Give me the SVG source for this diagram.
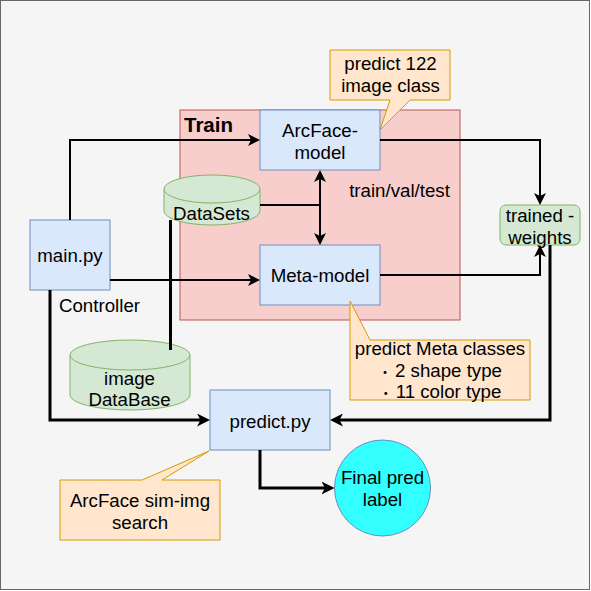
<svg xmlns="http://www.w3.org/2000/svg" width="591" height="591" viewBox="0 0 591 591">
<defs>
<style>
text{font-family:"Liberation Sans",Arial,"Noto Sans CJK JP",sans-serif;font-size:18.7px;fill:#000;text-anchor:middle}
.cjk{font-family:"Noto Sans CJK JP","Noto Sans CJK SC",sans-serif;font-size:14px}
.blue{fill:#dae8fc;stroke:#6c8ebf;stroke-width:1}
.green{fill:#d5e8d4;stroke:#82b366;stroke-width:1}
.note{fill:#ffe6cc;stroke:#d79b00;stroke-width:1}
.thin{fill:none;stroke:#000;stroke-width:2}
.thick{fill:none;stroke:#000;stroke-width:3}
</style>
<marker id="arr" viewBox="0 0 12 12" refX="8" refY="6" markerWidth="12" markerHeight="12" markerUnits="userSpaceOnUse" orient="auto-start-reverse">
<path d="M0,0 L12,6 L0,12 L3,6 Z" fill="#000"/>
</marker>
<marker id="arrL" viewBox="0 0 13 13" refX="9" refY="6.5" markerWidth="13" markerHeight="13" markerUnits="userSpaceOnUse" orient="auto-start-reverse">
<path d="M0,0 L13,6.5 L0,13 L3.5,6.5 Z" fill="#000"/>
</marker>
</defs>
<rect x="0.5" y="0.5" width="589" height="589" fill="#f5f5f5" stroke="#666666" stroke-width="1"/>
<g id="train">
<rect x="180" y="110" width="280" height="210" fill="#f8cecc" stroke="#b85450" stroke-width="1"/>
<text x="184" y="132" style="text-anchor:start;font-weight:bold;font-size:20.5px">Train</text>
</g>
<g id="note-arcface">
<path class="note" d="M330,50 H450 V100 H410 L380,130 L390,100 H330 Z"/>
<text x="390.5" y="70">predict 122</text>
<text x="390.5" y="92">image class</text>
</g>
<g id="arcface-model">
<rect class="blue" x="260" y="110" width="120" height="60"/>
<text x="320" y="137">ArcFace-</text>
<text x="320" y="158.5">model</text>
</g>
<g id="meta-model">
<rect class="blue" x="260" y="245" width="120" height="60"/>
<text x="320" y="282">Meta-model</text>
</g>
<g id="note-meta">
<path class="note" d="M350,301 L370,340 H530 V400 H350 Z"/>
<text x="440" y="355">predict Meta classes</text>
<text x="440" y="376.5"><tspan class="cjk">・</tspan><tspan dx="3">2 shape type</tspan></text>
<text x="440" y="398"><tspan class="cjk">・</tspan><tspan dx="3">11 color type</tspan></text>
</g>
<g id="datasets">
<path class="green" d="M164,189 A48,14 0 0 1 260,189 V211 A48,14 0 0 1 164,211 Z"/>
<path class="green" fill="none" d="M164,189 A48,14 0 0 0 260,189"/>
<text x="211.5" y="220">DataSets</text>
</g>
<g id="image-database">
<path class="green" d="M70,355 A60,15 0 0 1 190,355 V395 A60,15 0 0 1 70,395 Z"/>
<path class="green" fill="none" d="M70,355 A60,15 0 0 0 190,355"/>
<text x="129.5" y="385">image</text>
<text x="129.5" y="405.5">DataBase</text>
</g>
<g id="main-py">
<rect class="blue" x="30" y="220" width="80" height="70"/>
<text x="70" y="262">main.py</text>
</g>
<text x="99.5" y="312">Controller</text>
<text x="399.5" y="197">train/val/test</text>
<g id="trained-weights">
<rect class="green" x="500" y="205" width="80" height="40" rx="6" ry="6"/>
<text x="540" y="222">trained -</text>
<text x="540" y="243.5">weights</text>
</g>
<g id="predict-py">
<rect class="blue" x="210" y="390" width="120" height="60"/>
<text x="270" y="428">predict.py</text>
</g>
<g id="note-predict">
<path class="note" d="M60,480 H142 L209,451 L162,480 H220 V540 H60 Z"/>
<text x="140" y="507">ArcFace sim-img</text>
<text x="140" y="528.5">search</text>
</g>
<g id="final-pred">
<circle cx="382.5" cy="488" r="48" fill="#33ffff" stroke="#6c8ebf" stroke-width="1"/>
<text x="382.5" y="484">Final pred</text>
<text x="382.5" y="505.5">label</text>
</g>
<g id="connectors">
<path class="thin" d="M70,220 V140 H256" marker-end="url(#arr)"/>
<path class="thin" d="M110,280 H256" marker-end="url(#arr)"/>
<path class="thin" d="M380,140 H540 V201" marker-end="url(#arr)"/>
<path class="thin" d="M380,275 H540 V249" marker-end="url(#arr)"/>
<path class="thin" d="M260,205 H320"/>
<path class="thin" d="M320,174 V241" marker-start="url(#arr)" marker-end="url(#arr)"/>
<path class="thick" d="M170.5,220 V350"/>
<path class="thick" d="M50,290 V420 H206" marker-end="url(#arrL)"/>
<path class="thick" d="M550,245 V420 H334" marker-end="url(#arrL)"/>
<path class="thick" d="M260,450 V488 H330.5" marker-end="url(#arrL)"/>
</g>
</svg>
